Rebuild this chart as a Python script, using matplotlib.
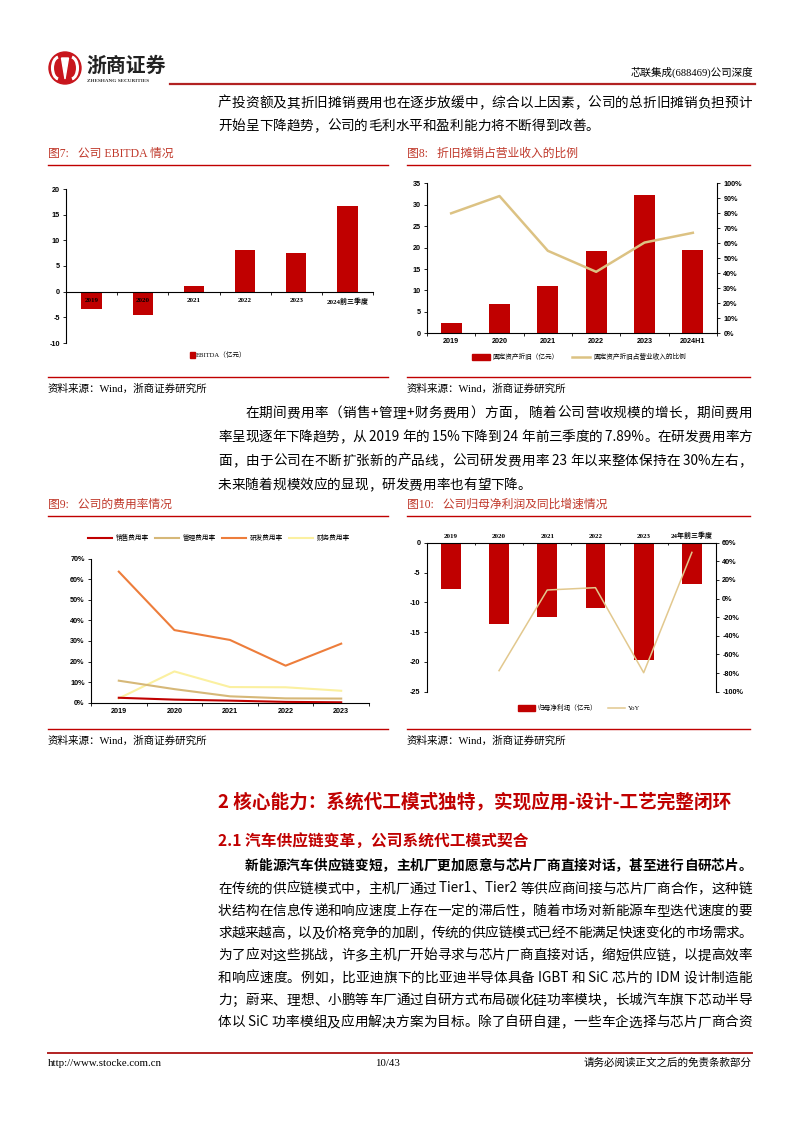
import matplotlib
matplotlib.use('Agg')
import matplotlib.pyplot as plt
import numpy as np
from matplotlib.patches import Circle, Arc, Polygon, Rectangle
from matplotlib.lines import Line2D
from matplotlib.ticker import FuncFormatter

plt.rcParams['font.family'] = ['Noto Sans CJK SC', 'DejaVu Sans']
plt.rcParams['axes.unicode_minus'] = False

# ---------------- data ----------------
ebitda_cats = ['2019', '2020', '2021', '2022', '2023', '2024前三季度']
ebitda_vals = [-3.4, -4.5, 1.2, 8.1, 7.5, 16.6]

dep_cats = ['2019', '2020', '2021', '2022', '2023', '2024H1']
dep_vals = [2.3, 6.8, 11.1, 19.2, 32.3, 19.4]
dep_ratio = [0.80, 0.915, 0.55, 0.41, 0.605, 0.67]

exp_years = ['2019', '2020', '2021', '2022', '2023']
sales_rate = [0.024, 0.015, 0.010, 0.004, 0.002]
admin_rate = [0.107, 0.066, 0.031, 0.021, 0.020]
rd_rate = [0.637, 0.353, 0.305, 0.180, 0.287]
fin_rate = [0.021, 0.152, 0.076, 0.075, 0.058]

np_cats = ['2019', '2020', '2021', '2022', '2023', '24年前三季度']
np_vals = [-7.8, -13.7, -12.4, -10.9, -19.6, -6.9]
np_yoy = [np.nan, -0.774, 0.092, 0.117, -0.796, 0.496]

# ---------------- page ----------------
W, H = 794, 1123
RED = '#C00000'
TRED = '#C0392B'
GOLD = '#DCC283'
SANS = ['Liberation Sans', 'Noto Sans CJK SC']
SERIF = ['Liberation Serif', 'Noto Sans CJK SC']

fig = plt.figure(figsize=(W / 100, H / 100), dpi=100)
bg = fig.add_axes([0, 0, 1, 1], zorder=0)
bg.set_xlim(0, W)
bg.set_ylim(H, 0)
bg.axis('off')
renderer = fig.canvas.get_renderer()


def ax_box(l, t, r, b):
    return fig.add_axes([l / W, 1 - b / H, (r - l) / W, (b - t) / H], zorder=2)


def draw_line(text, x0, x1, y, size=9.8, weight='normal', justify=True, color='black'):
    tokens = []
    buf = ''
    for ch in text:
        if ord(ch) < 128:
            buf += ch
        else:
            if buf:
                tokens.append(buf)
                buf = ''
            tokens.append(ch)
    if buf:
        tokens.append(buf)
    objs = [bg.text(0, y, tok, fontsize=size, fontweight=weight, va='center', ha='left',
                    color=color, family=['Noto Sans CJK SC', 'Liberation Serif'])
            for tok in tokens]
    widths = [o.get_window_extent(renderer).width for o in objs]
    gap = 0.0
    if justify and len(tokens) > 1:
        gap = (x1 - x0 - sum(widths)) / (len(tokens) - 1)
    x = x0
    for o, w in zip(objs, widths):
        o.set_x(x)
        x += w + gap


# header / logo
bg.add_patch(Circle((65, 68), 16, color='#C8161D'))
bg.add_patch(Arc((59, 68), 13, 22, theta1=95, theta2=265, color='white', lw=2.2))
bg.add_patch(Arc((71, 68), 13, 22, theta1=-85, theta2=85, color='white', lw=2.2))
bg.add_patch(Polygon([[61.5, 58], [68.5, 58], [65, 79]], color='white'))
bg.text(86, 65, '浙商证券', fontsize=14.3, fontweight='bold', va='center', ha='left', color='#222222')
bg.text(87, 81.5, 'ZHESHANG SECURITIES', fontsize=3.8, fontweight='bold', va='center', ha='left',
        family=SERIF, color='#333333')
bg.text(753, 72, '芯联集成(688469)公司深度', fontsize=7.6, va='center', ha='right', family=SERIF)
bg.plot([170, 755], [83.5, 83.5], color='#B22222', lw=1.6)

L0, L1 = 218, 752
IND = 245

# paragraph 1
draw_line('产投资额及其折旧摊销费用也在逐步放缓中，综合以上因素，公司的总折旧摊销负担预计', L0, L1, 103)
draw_line('开始呈下降趋势，公司的毛利水平和盈利能力将不断得到改善。', L0, L1, 126, justify=False)

# chart titles row 1
bg.text(48, 154, '图7:   公司 EBITDA 情况', fontsize=8.5, color=TRED, va='center', ha='left', family=SERIF)
bg.text(407, 154, '图8:   折旧摊销占营业收入的比例', fontsize=8.5, color=TRED, va='center', ha='left', family=SERIF)
bg.plot([48, 388], [165, 165], color=RED, lw=1.0)
bg.plot([407, 750], [165, 165], color=RED, lw=1.0)
bg.plot([48, 388], [377, 377], color=RED, lw=1.0)
bg.plot([407, 750], [377, 377], color=RED, lw=1.0)
bg.text(48, 389, '资料来源：Wind，浙商证券研究所', fontsize=7.6, va='center', ha='left', family=SERIF)
bg.text(407, 389, '资料来源：Wind，浙商证券研究所', fontsize=7.6, va='center', ha='left', family=SERIF)

# paragraph 2
draw_line('在期间费用率（销售+管理+财务费用）方面， 随着公司营收规模的增长，期间费用', IND, L1, 413)
draw_line('率呈现逐年下降趋势，从 2019 年的 15%下降到 24 年前三季度的 7.89%。在研发费用率方', L0, L1, 437)
draw_line('面，由于公司在不断扩张新的产品线，公司研发费用率 23 年以来整体保持在 30%左右，', L0, L1, 461)
draw_line('未来随着规模效应的显现，研发费用率也有望下降。', L0, L1, 485, justify=False)

# chart titles row 2
bg.text(48, 505, '图9:   公司的费用率情况', fontsize=8.5, color=TRED, va='center', ha='left', family=SERIF)
bg.text(407, 505, '图10:   公司归母净利润及同比增速情况', fontsize=8.5, color=TRED, va='center', ha='left', family=SERIF)
bg.plot([48, 388], [516, 516], color=RED, lw=1.0)
bg.plot([407, 750], [516, 516], color=RED, lw=1.0)
bg.plot([48, 388], [728.5, 728.5], color=RED, lw=1.0)
bg.plot([407, 750], [728.5, 728.5], color=RED, lw=1.0)
bg.text(48, 741, '资料来源：Wind，浙商证券研究所', fontsize=7.6, va='center', ha='left', family=SERIF)
bg.text(407, 741, '资料来源：Wind，浙商证券研究所', fontsize=7.6, va='center', ha='left', family=SERIF)

# headings
bg.text(218, 803, '2 核心能力：系统代工模式独特，实现应用-设计-工艺完整闭环', fontsize=13.4,
        fontweight='bold', color=RED, va='center', ha='left')
bg.text(218, 841, '2.1 汽车供应链变革，公司系统代工模式契合', fontsize=11.3,
        fontweight='bold', color=RED, va='center', ha='left')

# paragraph 3
p3 = [
    '在传统的供应链模式中，主机厂通过 Tier1、Tier2 等供应商间接与芯片厂商合作，这种链',
    '状结构在信息传递和响应速度上存在一定的滞后性，随着市场对新能源车型迭代速度的要',
    '求越来越高，以及价格竞争的加剧，传统的供应链模式已经不能满足快速变化的市场需求。',
    '为了应对这些挑战，许多主机厂开始寻求与芯片厂商直接对话，缩短供应链，以提高效率',
    '和响应速度。例如，比亚迪旗下的比亚迪半导体具备 IGBT 和 SiC 芯片的 IDM 设计制造能',
    '力；蔚来、理想、小鹏等车厂通过自研方式布局碳化硅功率模块，长城汽车旗下芯动半导',
    '体以 SiC 功率模组及应用解决方案为目标。除了自研自建，一些车企选择与芯片厂商合资',
]
draw_line('新能源汽车供应链变短，主机厂更加愿意与芯片厂商直接对话，甚至进行自研芯片。', IND, L1, 866,
          weight='bold')
for i, s in enumerate(p3):
    draw_line(s, L0, L1, 888.5 + i * 22.3)

# footer
bg.plot([48, 752], [1053, 1053], color='#B22222', lw=1.4)
bg.text(48, 1063, 'http://www.stocke.com.cn', fontsize=7.8, va='center', ha='left', family=SERIF)
bg.text(388, 1063, '10/43', fontsize=7.8, va='center', ha='center', family=SERIF)
bg.text(752, 1063, '请务必阅读正文之后的免责条款部分', fontsize=7.6, va='center', ha='right')


def style_ticklabels(ax, axis='both'):
    labels = []
    if axis in ('both', 'y'):
        labels += ax.get_yticklabels()
    if axis in ('both', 'x'):
        labels += ax.get_xticklabels()
    for t in labels:
        t.set_fontsize(5.2)
        t.set_fontweight('bold')
        t.set_family(SANS)


# ---------------- chart 7 ----------------
ax7 = ax_box(66, 189, 373, 343)
x7 = np.arange(len(ebitda_cats))
ax7.bar(x7, ebitda_vals, width=0.4, color=RED, label='EBITDA（亿元）', zorder=1)
ax7.set_axisbelow(False)
ax7.set_xlim(-0.5, len(ebitda_cats) - 0.5)
ax7.set_ylim(-10, 20)
ax7.set_yticks([-10, -5, 0, 5, 10, 15, 20])
for s in ('top', 'right'):
    ax7.spines[s].set_visible(False)
ax7.spines['bottom'].set_position(('data', 0))
ax7.spines['left'].set_linewidth(0.8)
ax7.spines['bottom'].set_linewidth(0.8)
ax7.set_xticks(x7)
ax7.set_xticklabels(ebitda_cats, fontsize=5, family=SERIF, fontweight='bold')
ax7.set_xticks(np.arange(-0.5, len(ebitda_cats), 1), minor=True)
ax7.tick_params(axis='x', which='major', length=0, pad=4.5)
ax7.tick_params(axis='x', which='minor', length=2, width=0.6)
ax7.tick_params(axis='y', length=2.5, width=0.6, pad=2)
for t in ax7.get_yticklabels():
    t.set_fontsize(5.2); t.set_fontweight('bold'); t.set_family(SANS)
fig.legend(handles=[Rectangle((0, 0), 1, 1, color=RED)], labels=['EBITDA（亿元）'],
           loc='center', bbox_to_anchor=(218 / W, 1 - 355 / H), frameon=False,
           prop={'size': 4.8, 'family': SERIF}, handlelength=0.8, handleheight=0.9, handletextpad=0.1)

# ---------------- chart 8 ----------------
ax8 = ax_box(427, 183.3, 717, 333.3)
x8 = np.arange(len(dep_cats))
ax8.bar(x8, dep_vals, width=0.43, color=RED, zorder=2)
ax8.set_xlim(-0.5, len(dep_cats) - 0.5)
ax8.set_ylim(0, 35)
ax8.set_yticks(range(0, 36, 5))
ax8.set_xticks(x8)
ax8.set_xticklabels(dep_cats)
ax8.set_xticks(np.arange(-0.5, len(dep_cats), 1), minor=True)
ax8.tick_params(axis='x', which='major', length=0, pad=3.5)
ax8.tick_params(axis='x', which='minor', length=2, width=0.6)
ax8.tick_params(axis='y', length=2.5, width=0.6, pad=2)
for s in ('top', 'right'):
    ax8.spines[s].set_visible(False)
style_ticklabels(ax8)
ax8b = ax8.twinx()
ax8b.plot(x8, dep_ratio, color=GOLD, lw=1.8, zorder=3)
ax8b.set_ylim(0, 1)
ax8b.set_yticks(np.arange(0, 1.01, 0.1))
ax8b.yaxis.set_major_formatter(FuncFormatter(lambda v, p: f'{v * 100:.0f}%'))
ax8b.tick_params(axis='y', length=2.5, width=0.6, pad=2)
for s in ('top', 'left', 'bottom'):
    ax8b.spines[s].set_visible(False)
style_ticklabels(ax8b, 'y')
fig.legend(handles=[Rectangle((0, 0), 1, 1, color=RED), Line2D([0], [0], color=GOLD, lw=1.8)],
           labels=['固定资产折旧（亿元）', '固定资产折旧占营业收入的比例'],
           loc='center', bbox_to_anchor=(579 / W, 1 - 357.5 / H), frameon=False, ncol=2,
           prop={'size': 4.8}, handlelength=2.7, handleheight=0.9, handletextpad=0.4, columnspacing=2.0)

# ---------------- chart 9 ----------------
ax9 = ax_box(91, 558.7, 369, 702.7)
x9 = np.arange(len(exp_years))
ax9.plot(x9, fin_rate, color='#FBF0A0', lw=1.5, label='财务费用率', zorder=2)
ax9.plot(x9, admin_rate, color='#D6B878', lw=1.5, label='管理费用率', zorder=3)
ax9.plot(x9, rd_rate, color='#ED7D3B', lw=1.5, label='研发费用率', zorder=3)
ax9.plot(x9, sales_rate, color=RED, lw=1.5, label='销售费用率', zorder=4)
ax9.set_xlim(-0.5, len(exp_years) - 0.5)
ax9.set_ylim(0, 0.7)
ax9.set_yticks(np.arange(0, 0.71, 0.1))
ax9.yaxis.set_major_formatter(FuncFormatter(lambda v, p: f'{v * 100:.0f}%'))
ax9.set_xticks(x9)
ax9.set_xticklabels(exp_years)
ax9.set_xticks(np.arange(-0.5, len(exp_years), 1), minor=True)
ax9.tick_params(axis='x', which='major', length=0, pad=4)
ax9.tick_params(axis='x', which='minor', length=2, width=0.6)
ax9.tick_params(axis='y', length=2.5, width=0.6, pad=2)
for s in ('top', 'right'):
    ax9.spines[s].set_visible(False)
style_ticklabels(ax9)
h9, l9 = ax9.get_legend_handles_labels()
order = [3, 1, 2, 0]
fig.legend([h9[i] for i in order], [l9[i] for i in order], loc='center',
           bbox_to_anchor=(219 / W, 1 - 538.3 / H), frameon=False, ncol=4,
           prop={'size': 4.8}, handlelength=3.6, handletextpad=0.5, columnspacing=1.0)

# ---------------- chart 10 ----------------
ax10 = ax_box(426.7, 542.7, 716, 691.7)
x10 = np.arange(len(np_cats))
ax10.bar(x10, np_vals, width=0.41, color=RED, zorder=2)
ax10.set_xlim(-0.5, len(np_cats) - 0.5)
ax10.set_ylim(-25, 0)
ax10.set_yticks([-25, -20, -15, -10, -5, 0])
ax10.xaxis.tick_top()
ax10.set_xticks(x10)
ax10.set_xticklabels(np_cats, fontsize=5, family=SERIF, fontweight='bold')
ax10.set_xticks(np.arange(-0.5, len(np_cats), 1), minor=True)
ax10.tick_params(axis='x', which='major', length=0, pad=3)
ax10.tick_params(axis='x', which='minor', length=1.5, width=0.6, direction='in')
ax10.tick_params(axis='y', length=2.5, width=0.6, pad=2)
for s in ('bottom', 'right'):
    ax10.spines[s].set_visible(False)
for t in ax10.get_yticklabels():
    t.set_fontsize(5.2); t.set_fontweight('bold'); t.set_family(SANS)
ax10b = ax10.twinx()
ax10b.plot(x10, np_yoy, color='#E2C88E', lw=1.1, zorder=3)
ax10b.set_ylim(-1.0, 0.6)
ax10b.set_yticks(np.arange(-1.0, 0.61, 0.2))
ax10b.yaxis.set_major_formatter(FuncFormatter(lambda v, p: f'{round(v * 100):.0f}%'))
ax10b.tick_params(axis='y', length=2.5, width=0.6, pad=2)
ax10b.tick_params(axis='x', length=0)
for s in ('top', 'left', 'bottom'):
    ax10b.spines[s].set_visible(False)
style_ticklabels(ax10b, 'y')
fig.legend(handles=[Rectangle((0, 0), 1, 1, color=RED), Line2D([0], [0], color='#E2C88E', lw=1.1)],
           labels=['归母净利润（亿元）', 'YoY'],
           loc='center', bbox_to_anchor=(579 / W, 1 - 707.7 / H), frameon=False, ncol=2,
           prop={'size': 4.8, 'family': SERIF}, handlelength=2.6, handleheight=0.9, handletextpad=0.4,
           columnspacing=1.6)

fig.savefig('out.png', dpi=100)
